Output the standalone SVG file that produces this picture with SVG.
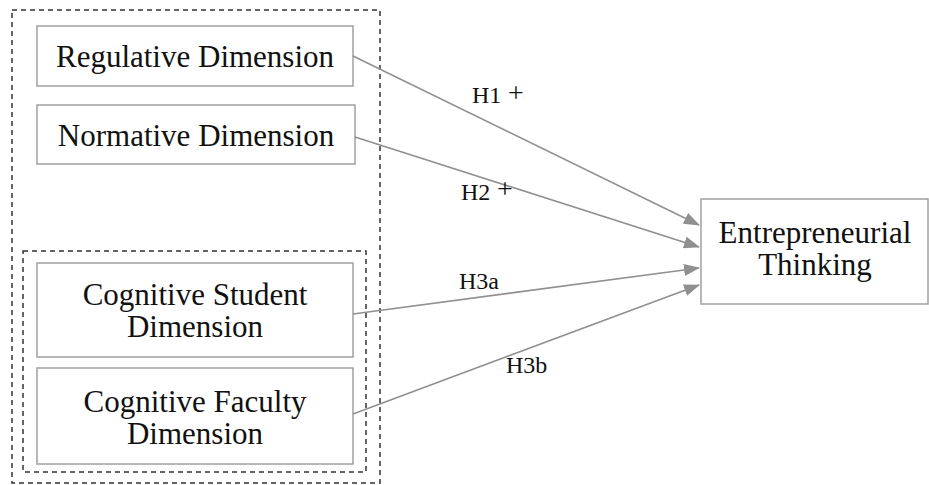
<svg xmlns="http://www.w3.org/2000/svg" width="929" height="485" viewBox="0 0 929 485">
<style>
.box{fill:#fff;stroke:#a0a0a0;stroke-width:1.5}
.dash{fill:none;stroke:#333;stroke-width:1.5;stroke-dasharray:5,4}
.t{font-family:"Liberation Serif","Times New Roman",serif;font-size:31px;fill:#111;text-anchor:middle}
.lbl{font-family:"Liberation Serif","Times New Roman",serif;font-size:24px;fill:#111}
.plus{font-family:"Liberation Serif","Times New Roman",serif;font-size:28px;fill:#111}
.c{stroke:#909090;stroke-width:1.6;fill:none;marker-end:url(#ah)}
</style>
<defs>
<marker id="ah" markerWidth="16" markerHeight="12" refX="15" refY="6" orient="auto" markerUnits="userSpaceOnUse">
<path d="M0,0 L16,6 L0,12 Z" fill="#909090"/>
</marker>
</defs>
<rect class="dash" x="12" y="10" width="368" height="473"/>
<rect class="dash" x="23" y="251" width="343" height="221"/>
<g id="regulative">
<rect class="box" x="37" y="26" width="316" height="60"/>
<text class="t" x="195" y="67">Regulative Dimension</text>
</g>
<g id="normative">
<rect class="box" x="37" y="105" width="318" height="59"/>
<text class="t" x="196" y="146">Normative Dimension</text>
</g>
<g id="cog-student">
<rect class="box" x="37" y="263" width="316" height="94"/>
<text class="t" x="195" y="305">Cognitive Student</text>
<text class="t" x="195" y="337">Dimension</text>
</g>
<g id="cog-faculty">
<rect class="box" x="37" y="368" width="316" height="96"/>
<text class="t" x="195" y="412">Cognitive Faculty</text>
<text class="t" x="195" y="444">Dimension</text>
</g>
<g id="entrepreneurial">
<rect class="box" x="701" y="199" width="227" height="105"/>
<text class="t" x="815" y="243">Entrepreneurial</text>
<text class="t" x="815" y="275">Thinking</text>
</g>
<g id="connectors">
<line class="c" x1="353" y1="56" x2="699" y2="225"/>
<line class="c" x1="355" y1="137" x2="699" y2="247"/>
<line class="c" x1="353" y1="314" x2="699" y2="268"/>
<line class="c" x1="353" y1="414" x2="699" y2="285"/>
<text class="lbl" x="472" y="103">H1</text>
<text class="plus" x="508" y="102">+</text>
<text class="lbl" x="461" y="200">H2</text>
<text class="plus" x="497" y="198">+</text>
<text class="lbl" x="459" y="289">H3a</text>
<text class="lbl" x="506" y="373">H3b</text>
</g>
</svg>
